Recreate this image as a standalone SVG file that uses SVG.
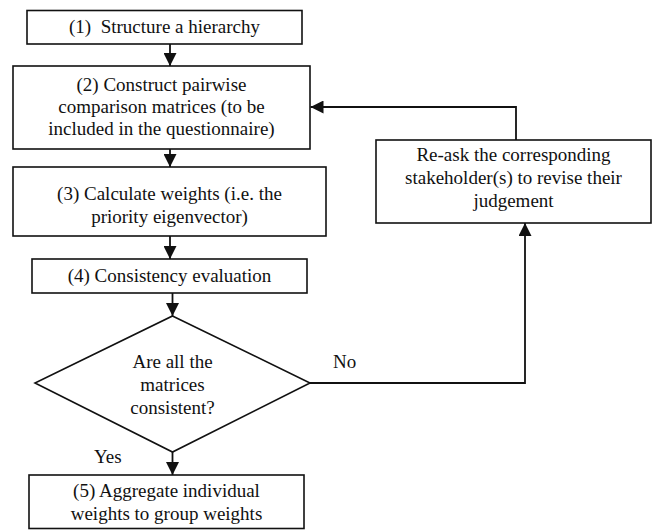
<svg xmlns="http://www.w3.org/2000/svg" width="654" height="530" viewBox="0 0 654 530">
  <defs>
    <style>
      .box { fill: #ffffff; stroke: #111111; stroke-width: 1.6; }
      .conn { fill: none; stroke: #111111; stroke-width: 1.8; }
      text { font-size: 19px; fill: #111111; }
      .c { text-anchor: middle; }
    </style>
    <marker id="arrow" markerUnits="userSpaceOnUse" markerWidth="13" markerHeight="13" viewBox="0 0 13 13" refX="13" refY="6.5" orient="auto">
      <path d="M0,0 L13,6.5 L0,13 z" fill="#111111"/>
    </marker>
  </defs>
  <rect width="654" height="530" fill="#ffffff"/>

  <g id="connectors">
    <line class="conn" x1="170" y1="44" x2="170" y2="66" marker-end="url(#arrow)"/>
    <line class="conn" x1="170" y1="149" x2="170" y2="167" marker-end="url(#arrow)"/>
    <line class="conn" x1="170" y1="236" x2="170" y2="259" marker-end="url(#arrow)"/>
    <line class="conn" x1="172.5" y1="293" x2="172.5" y2="316" marker-end="url(#arrow)"/>
    <line class="conn" x1="172.5" y1="452" x2="172.5" y2="475" marker-end="url(#arrow)"/>
    <polyline class="conn" points="310,383 525,383 525,223" marker-end="url(#arrow)"/>
    <polyline class="conn" points="516,140 516,107 310.5,107" marker-end="url(#arrow)"/>
    <text font-family="Liberation Serif, Tinos, Noto Serif, DejaVu Serif, serif" x="333" y="368">No</text>
    <text font-family="Liberation Serif, Tinos, Noto Serif, DejaVu Serif, serif" x="94" y="463">Yes</text>
  </g>

  <g id="step1" font-family="Liberation Serif, Tinos, Noto Serif, DejaVu Serif, serif">
    <rect class="box" x="27" y="10.5" width="275" height="33.5"/>
    <text class="c" x="164.5" y="33" xml:space="preserve">(1)  Structure a hierarchy</text>
  </g>

  <g id="step2" font-family="Liberation Serif, Tinos, Noto Serif, DejaVu Serif, serif">
    <rect class="box" x="13" y="66" width="297" height="83"/>
    <text class="c" x="161.5" y="91">(2) Construct pairwise</text>
    <text class="c" x="161.5" y="113">comparison matrices (to be</text>
    <text class="c" x="161.5" y="135">included in the questionnaire)</text>
  </g>

  <g id="step3" font-family="Liberation Serif, Tinos, Noto Serif, DejaVu Serif, serif">
    <rect class="box" x="13" y="167" width="313" height="69"/>
    <text class="c" x="169.5" y="200">(3) Calculate weights (i.e. the</text>
    <text class="c" x="169.5" y="223">priority eigenvector)</text>
  </g>

  <g id="step4" font-family="Liberation Serif, Tinos, Noto Serif, DejaVu Serif, serif">
    <rect class="box" x="32" y="259" width="275" height="34"/>
    <text class="c" x="169.5" y="282">(4) Consistency evaluation</text>
  </g>

  <g id="decision" font-family="Liberation Serif, Tinos, Noto Serif, DejaVu Serif, serif">
    <polygon class="box" points="172.5,316 310,383 172.5,452 35,383"/>
    <text class="c" x="172.5" y="368">Are all the</text>
    <text class="c" x="172.5" y="391">matrices</text>
    <text class="c" x="172.5" y="414">consistent?</text>
  </g>

  <g id="step5" font-family="Liberation Serif, Tinos, Noto Serif, DejaVu Serif, serif">
    <rect class="box" x="29" y="475" width="275" height="53.5"/>
    <text class="c" x="166.5" y="497">(5) Aggregate individual</text>
    <text class="c" x="166.5" y="520">weights to group weights</text>
  </g>

  <g id="reask" font-family="Liberation Serif, Tinos, Noto Serif, DejaVu Serif, serif">
    <rect class="box" x="376" y="140" width="275" height="83"/>
    <text class="c" x="513.5" y="161">Re-ask the corresponding</text>
    <text class="c" x="513.5" y="184">stakeholder(s) to revise their</text>
    <text class="c" x="513.5" y="207">judgement</text>
  </g>
</svg>
